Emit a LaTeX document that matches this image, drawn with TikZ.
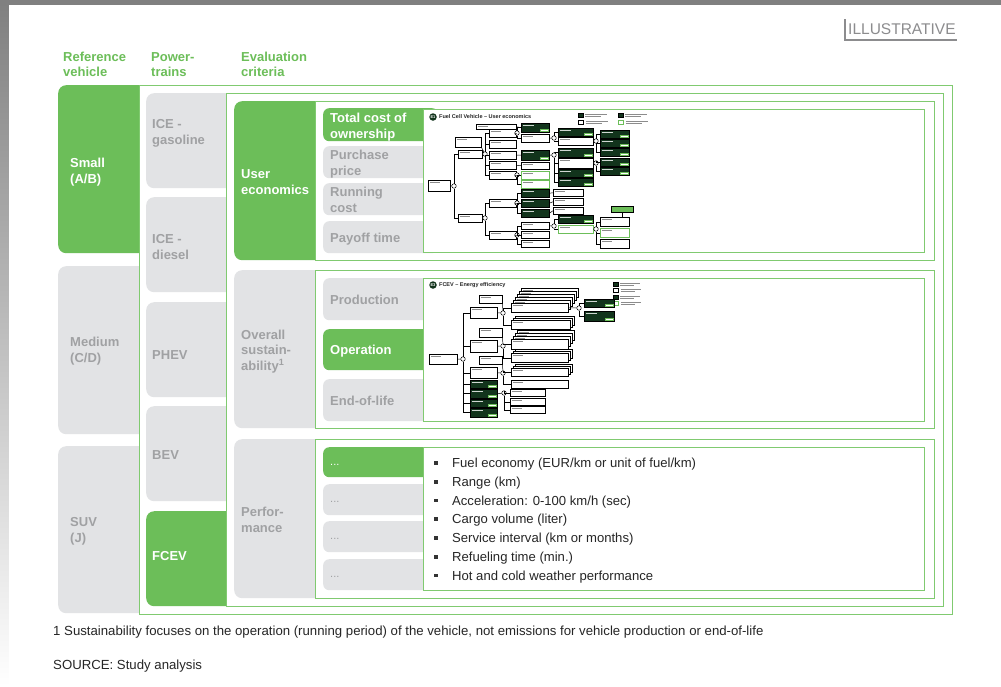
\documentclass[tikz,border=0pt]{standalone}
\usepackage{fontspec}
\setmainfont{Liberation Sans}
\usepackage{xcolor}
\definecolor{mgreen}{RGB}{108,190,89}
\definecolor{framegreen}{RGB}{128,202,112}
\definecolor{boxgray}{RGB}{226,227,229}
\definecolor{txtgray}{RGB}{160,161,163}
\definecolor{darkgreen}{RGB}{18,52,28}
\definecolor{shade}{RGB}{236,240,240}
\definecolor{tagcol}{RGB}{140,140,142}
\usepackage{tikz}
\usetikzlibrary{positioning}

\tikzset{
  sz/.style 2 args={minimum width=#1, minimum height=#2},
  head/.style={anchor=base west, align=left, inner sep=0pt, text=mgreen, font=\fontsize{13}{15}\selectfont\bfseries},
  onlbl/.style={anchor=base west, align=left, inner sep=0pt, text=white, font=\fontsize{13}{15.5}\selectfont\bfseries},
  offlbl/.style={onlbl, text=txtgray},
  onbox/.style={anchor=north west, inner sep=0pt, fill=mgreen, rounded corners=8pt},
  offbox/.style={onbox, fill=boxgray},
  onsub/.style={onbox, rounded corners=6pt},
  offsub/.style={offbox, rounded corners=6pt},
  gframe/.style={anchor=north west, inner sep=0pt, draw=framegreen, line width=1.2pt, fill=white},
  item/.style={anchor=base west, inner sep=0pt, text=black!85, font=\fontsize{13.1}{14}\selectfont},
  bullet/.style={fill=black!80, inner sep=0pt, minimum size=3.6pt},
  note/.style={anchor=base west, inner sep=0pt, text=black!85, font=\fontsize{13.2}{14}\selectfont},
  % mini tree boxes
  dk/.style={anchor=north west, draw=black, fill=darkgreen, line width=0.4pt, inner sep=0pt,
    path picture={\draw[white!80!darkgreen, line width=0.6pt] ([shift={(1.5pt,-2.2pt)}]path picture bounding box.north west) -- ++(11pt,0pt);}},
  dkv/.style={dk,
    path picture={\draw[white!80!darkgreen, line width=0.6pt] ([shift={(1.5pt,-2.2pt)}]path picture bounding box.north west) -- ++(11pt,0pt);
      \filldraw[fill=white, draw=mgreen, line width=0.4pt] ([shift={(-1pt,1pt)}]path picture bounding box.south east) rectangle ++(-8pt,2.5pt);}},
  wt/.style={anchor=north west, draw=black, fill=white, line width=0.5pt, inner sep=0pt,
    path picture={\draw[black!45, line width=0.5pt] ([shift={(1.5pt,-2.2pt)}]path picture bounding box.north west) -- ++(10pt,0pt);}},
  sn/.style={wt, draw=mgreen, line width=0.9pt},
  lg/.style={path picture={}},
  jn/.style={circle, draw=black, fill=white, line width=0.5pt, inner sep=0pt, minimum size=4.5pt},
  tl/.style={draw=black, line width=0.5pt},
  txt/.style={draw=black!45, line width=0.5pt},
  circ/.style={circle, fill=darkgreen, text=white, inner sep=0pt, minimum size=7.5pt, font=\fontsize{4}{4}\selectfont\bfseries},
  ttl/.style={anchor=west, inner sep=0pt, text=black!85, font=\fontsize{5.5}{6}\selectfont\bfseries}
}

\begin{document}
\begin{tikzpicture}[x=1pt, y=-1pt]
  \useasboundingbox (0,0) rectangle (1001,686);
  \fill[shade] (0,0) rectangle (1001,686);
  \fill[white] (9,5) rectangle (1001,686);

  % Tag
  \node[anchor=base west, inner sep=0pt, text=tagcol, font=\fontsize{15.5}{16}\selectfont] (tag) at (848,34.5) {ILLUSTRATIVE};
  \draw[tagcol, line width=1.5pt] ([shift={(-3pt,4pt)}]tag.north west) |- ([shift={(1pt,-5pt)}]tag.south east);

  % Column heads (base = last line)
  \node[head] (hveh) at (63,76) {Reference\\vehicle};
  \node[head] (hpt) at (151,76) {Power-\\trains};
  \node[head] (hev) at (241,76) {Evaluation\\criteria};

  % Reference vehicles
  \node[onbox, sz={100}{168}] (small) at (58,85) {};
  \node[offbox, sz={100}{168}] (medium) at (58,266) {};
  \node[offbox, sz={100}{167}] (suv) at (58,446) {};
  \node[onlbl] (smallT) at (70,183) {Small\\(A/B)};
  \node[offlbl] (mediumT) at (70,362) {Medium\\(C/D)};
  \node[offlbl] (suvT) at (70,542) {SUV\\(J)};

  % Powertrains
  \node[gframe, sz={813}{529}] (ptframe) at (139,85) {};
  \node[offbox, sz={95}{95}] (iceg) at (146,93) {};
  \node[offbox, sz={95}{95}] (iced) at (146,197) {};
  \node[offbox, sz={95}{95}] (phev) at (146,302) {};
  \node[offbox, sz={95}{95}] (bev) at (146,406) {};
  \node[onbox, sz={95}{95}] (fcev) at (146,511) {};
  \node[offlbl] (icegT) at (152,144) {ICE -\\gasoline};
  \node[offlbl] (icedT) at (152,259) {ICE -\\diesel};
  \node[offlbl] (phevT) at (152,359) {PHEV};
  \node[offlbl] (bevT) at (152,459) {BEV};
  \node[onlbl] (fcevT) at (152,560) {FCEV};

  % Evaluation criteria
  \node[gframe, sz={717}{513}] (evframe) at (226,93) {};
  \node[onbox, sz={95}{159}] (usereco) at (234,101) {};
  \node[offbox, sz={95}{158}] (sust) at (234,270) {};
  \node[offbox, sz={95}{159}] (perf) at (234,439) {};
  \node[onlbl] (userecoT) at (241,194) {User\\economics};
  \node[offlbl] (sustT) at (241,370) {Overall\\sustain-\\ability\textsuperscript{1}};
  \node[offlbl] (perfT) at (241,532) {Perfor-\\mance};

  \node[gframe, sz={619}{159}] (ueframe) at (315,101) {};
  \node[gframe, sz={619}{158}] (suframe) at (315,270) {};
  \node[gframe, sz={619}{159}] (pfframe) at (315,439) {};

  % Sub-criteria
  \node[onsub, sz={115}{33}] (tco) at (323,108) {};
  \node[offsub, sz={115}{32}] (pprice) at (323,146) {};
  \node[offsub, sz={115}{32}] (rcost) at (323,183) {};
  \node[offsub, sz={115}{32}] (payoff) at (323,221) {};
  \node[offsub, sz={115}{42}] (prod) at (323,278) {};
  \node[onsub, sz={115}{41}] (oper) at (323,329) {};
  \node[offsub, sz={115}{42}] (eol) at (323,379) {};
  \node[onsub, sz={115}{30}] (pa) at (323,447) {};
  \node[offsub, sz={115}{31}] (pb) at (323,484) {};
  \node[offsub, sz={115}{31}] (pc) at (323,521) {};
  \node[offsub, sz={115}{31}] (pd) at (323,559) {};
  \node[onlbl] (tcoT) at (330,138) {Total cost of\\ownership};
  \node[offlbl] (ppriceT) at (330,175) {Purchase\\price};
  \node[offlbl] (rcostT) at (330,212) {Running\\cost};
  \node[offlbl] (payoffT) at (330,242) {Payoff time};
  \node[offlbl] (prodT) at (330,304) {Production};
  \node[onlbl] (operT) at (330,354) {Operation};
  \node[offlbl] (eolT) at (330,405) {End-of-life};
  \node[onlbl, font=\fontsize{11}{12}\selectfont] (paT) at (330,465) {...};
  \node[offlbl, font=\fontsize{11}{12}\selectfont] (pbT) at (330,502) {...};
  \node[offlbl, font=\fontsize{11}{12}\selectfont] (pcT) at (330,539) {...};
  \node[offlbl, font=\fontsize{11}{12}\selectfont] (pdT) at (330,577) {...};

  \node[gframe, sz={501}{143}] (tree1) at (423,109) {};
  \node[gframe, sz={501}{143}] (tree2) at (423,278) {};
  \node[gframe, sz={501}{143}] (kpis) at (423,447) {};

  % Performance list
  \foreach \t [count=\i from 0] in {Fuel economy (EUR/km or unit of fuel/km), Range (km),
      Acceleration: 0-100 km/h (sec), Cargo volume (liter), Service interval (km or months),
      Refueling time (min.), Hot and cold weather performance} {
    \node[item] (kpi\i) at (452,{467.5+18.75*\i}) {\t};
    \node[bullet] (kb\i) at ([shift={(-16pt,4.5pt)}]kpi\i.base west) {};
  }

  % Tree E1: user economics
  \node[circ] (eone) at (433,117) {E1};
  \node[ttl] (eonet) at ([xshift=2pt]eone.east) {Fuel Cell Vehicle – User economics};
  \node[dk, lg, sz={5}{4}] (lga) at (578,113) {};
  \node[wt, lg, sz={5}{4}] (lgb) at (578,120) {};
  \node[dk, lg, sz={5}{4}] (lgc) at (618,113) {};
  \node[sn, lg, sz={5}{4}] (lgd) at (618,120) {};
  \foreach \n in {lga,lgb,lgc,lgd}
    \draw[txt] ([shift={(2pt,1pt)}]\n.east) -- ++(22pt,0pt) ([shift={(2pt,-1pt)}]\n.east) -- ++(16pt,0pt);

  \node[wt, sz={22}{11}] (tr0) at (428,180) {};
  \node[wt, sz={26}{10}] (tra) at (455,137) {};
  \node[wt, sz={24}{8}] (trp) at (458,150) {};
  \node[wt, sz={24}{8}] (trr) at (458,214) {};
  \foreach \k/\y in {1/129,2/140,3/151,4/161,5/171}
    \node[wt, sz={27}{8}] (c\k) at (489,\y) {};
  \node[wt, sz={40}{5}] (tra2) at (476,124) {};
  \node[dkv, sz={28}{9}] (d1) at (521,123) {};
  \node[wt, sz={28}{8}] (w1) at (521,134) {};
  \node[dkv, sz={28}{10}] (d2) at (521,150) {};
  \node[wt, sz={28}{7}] (w2) at (521,162) {};
  \node[sn, sz={28}{8}] (s1) at (521,171) {};
  \node[sn, sz={28}{8}] (s2) at (521,180) {};
  \node[dkv, sz={35}{8}] (d3) at (558,128) {};
  \node[wt, sz={35}{8}] (w3) at (558,137) {};
  \node[dkv, sz={35}{9}] (d4) at (558,148) {};
  \node[wt, sz={35}{10}] (w4) at (558,158) {};
  \node[dkv, sz={35}{8}] (d5) at (558,169) {};
  \node[dkv, sz={35}{8}] (d6) at (558,178) {};
  \foreach \k/\y in {7/130,8/139,9/148,10/158,11/167}
    \node[dkv, sz={29}{8}] (d\k) at (600,\y) {};
  \node[wt, sz={27}{8}] (m1) at (489,199) {};
  \node[wt, sz={27}{8}] (m2) at (489,231) {};
  \foreach \k/\y in {12/189,13/199,14/209}
    \node[dk, sz={28}{8}] (d\k) at (521,\y) {};
  \foreach \k/\y in {1/189,2/198,3/207}
    \node[wt, sz={30}{7}] (n\k) at (553,\y) {};
  \foreach \k/\y in {5/222,6/231,7/240}
    \node[wt, sz={28}{7}] (w\k) at (521,\y) {};
  \node[dkv, sz={35}{8}] (d15) at (558,215) {};
  \node[sn, sz={35}{8}] (s3) at (558,225) {};
  \node[wt, sz={29}{9}] (w8) at (600,217) {};
  \node[sn, sz={29}{9}] (s4) at (600,228) {};
  \node[wt, sz={29}{9}] (w9) at (600,239) {};
  \node[anchor=north west, fill=mgreen, draw=black, line width=0.4pt, inner sep=0pt, sz={22}{6}] (g1) at (611,206) {};

  \node[jn] (j0) at (454,186) {};
  \node[jn] (j1) at (485,154) {};
  \node[jn] (j2) at (517,133) {};
  \node[jn] (j4) at (517,175) {};
  \node[jn] (j6) at (554,138) {};
  \node[jn] (j7) at (554,155) {};
  \node[jn] (j8) at (596,141) {};
  \node[jn] (j9) at (596,163) {};
  \node[jn] (j10) at (485,218) {};
  \node[jn] (j11) at (517,203) {};
  \node[jn] (j12) at (517,235) {};
  \node[jn] (j13) at (554,226) {};
  \node[jn] (j14) at (596,229) {};

  \draw[tl] (tr0.east) -- (j0);
  \foreach \c in {trp,trr} \draw[tl] (j0) |- (\c.west);
  \draw[tl] (trp.east) -- (j1);
  \draw[tl] (tra.south east) -- (j1);
  \foreach \c in {c1,c2,c3,c4,c5} \draw[tl] (j1) |- (\c.west);
  \draw[tl] (c1.east) -- (j2);
  \foreach \c in {d1,w1} \draw[tl] (j2) |- (\c.west);
  \draw[tl] (tra2.east) -- (d1.west);
  \draw[tl] (c3.east) -- (d2.west);
  \draw[tl] (c4.east) -- (w2.west);
  \draw[tl] (c5.east) -- (j4);
  \foreach \c in {s1,s2} \draw[tl] (j4) |- (\c.west);
  \draw[tl] (w1.east) -- (j6);
  \foreach \c in {d3,w3} \draw[tl] (j6) |- (\c.west);
  \draw[tl] (d2.east) -- (j7);
  \foreach \c in {d4,w4,d5,d6} \draw[tl] (j7) |- (\c.west);
  \draw[tl] (w3.east) -- (j8);
  \foreach \c in {d7,d8,d9} \draw[tl] (j8) |- (\c.west);
  \draw[tl] (w4.east) -- (j9);
  \foreach \c in {d10,d11} \draw[tl] (j9) |- (\c.west);
  \draw[tl] (trr.east) -- (j10);
  \foreach \c in {m1,m2} \draw[tl] (j10) |- (\c.west);
  \draw[tl] (m1.east) -- (j11);
  \foreach \c in {d12,d13,d14} \draw[tl] (j11) |- (\c.west);
  \foreach \a/\b in {d12/n1,d13/n2,d14/n3} \draw[tl] (\a.east) -- (\b.west);
  \draw[tl] (m2.east) -- (j12);
  \foreach \c in {w5,w6,w7} \draw[tl] (j12) |- (\c.west);
  \draw[tl] (w5.east) -- (j13);
  \foreach \c in {d15,s3} \draw[tl] (j13) |- (\c.west);
  \draw[tl] (s3.east) -- (j14);
  \foreach \c in {w8,s4,w9} \draw[tl] (j14) |- (\c.west);
  \draw[tl] (g1.south) -- (g1.south |- w8.north);

  % Tree E3: energy efficiency
  \node[circ] (ethree) at (433,285) {E3};
  \node[ttl] (ethreet) at ([xshift=2pt]ethree.east) {FCEV – Energy efficiency};
  \node[dk, lg, sz={5}{4}] (lge) at (613,282) {};
  \node[wt, lg, sz={5}{4}] (lgf) at (613,288) {};
  \node[dk, lg, sz={5}{4}] (lgg) at (613,295) {};
  \node[sn, lg, sz={5}{4}] (lgh) at (613,301) {};
  \foreach \n in {lge,lgf,lgg,lgh}
    \draw[txt] ([shift={(2pt,1pt)}]\n.east) -- ++(20pt,0pt) ([shift={(2pt,-1pt)}]\n.east) -- ++(14pt,0pt);

  \node[wt, sz={28}{10}] (r2) at (429,354) {};
  \node[wt, sz={27}{11}] (e1) at (470,307) {};
  \node[wt, sz={27}{12}] (e2) at (470,340) {};
  \node[wt, sz={27}{11}] (e3) at (470,367) {};
  \foreach \k/\y/\h in {4/380/8,5/389/9,6/399/8,7/408/9}
    \node[dkv, sz={27}{\h}] (e\k) at (470,\y) {};
  \node[wt, sz={23}{8}] (b1) at (479,295) {};
  \node[wt, sz={23}{9}] (b2) at (479,328) {};
  \node[wt, sz={23}{8}] (b3) at (479,356) {};

  \foreach \k in {5,...,1} \node[wt, sz={57}{9}] (st1b\k) at ({511+2*\k},{303-3*\k}) {};
  \node[wt, sz={57}{9}] (st1) at (511,303) {};
  \foreach \k in {2,1} \node[wt, sz={59}{9}] (st2b\k) at ({511+2*\k},{320-2*\k}) {};
  \node[wt, sz={59}{9}] (st2) at (511,320) {};
  \foreach \k in {3,2,1} \node[wt, sz={57}{10}] (st3b\k) at ({511+2*\k},{339-3*\k}) {};
  \node[wt, sz={57}{10}] (st3) at (511,339) {};
  \foreach \k in {2,1} \node[wt, sz={57}{9}] (st4b\k) at ({511+2*\k},{353-2*\k}) {};
  \node[wt, sz={57}{9}] (st4) at (511,353) {};
  \foreach \k in {2,1} \node[wt, sz={57}{8}] (st5b\k) at ({511+2*\k},{368-2*\k}) {};
  \node[wt, sz={57}{8}] (st5) at (511,368) {};
  \node[wt, sz={57}{8}] (st6) at (511,380) {};
  \foreach \k/\y in {1/389,2/398,3/406}
    \node[wt, sz={35}{7}] (f\k) at (510,\y) {};
  \node[dkv, sz={30}{8}] (h1) at (584,299) {};
  \node[dkv, sz={30}{10}] (h2) at (584,311) {};

  \node[jn] (j20) at (463,359) {};
  \node[jn] (j21) at (503,313) {};
  \node[jn] (j22) at (503,346) {};
  \node[jn] (j23) at (503,373) {};
  \node[jn] (j24) at (504,393) {};
  \node[jn] (j25) at (579,308) {};

  \draw[tl] (r2.east) -- (j20);
  \foreach \c in {e1,e2,e3,e4,e5,e6,e7} \draw[tl] (j20) |- (\c.west);
  \draw[tl] (e1.east) -- (j21);
  \draw[tl] (b1.south east) -- (j21);
  \foreach \c in {st1,st2} \draw[tl] (j21) |- (\c.west);
  \draw[tl] (e2.east) -- (j22);
  \draw[tl] (b2.south east) -- (j22);
  \foreach \c in {st3,st4} \draw[tl] (j22) |- (\c.west);
  \draw[tl] (e3.east) -- (j23);
  \draw[tl] (b3.south east) -- (j23);
  \foreach \c in {st5,st6} \draw[tl] (j23) |- (\c.west);
  \draw[tl] (e5.east) -- (j24);
  \foreach \c in {f1,f2,f3} \draw[tl] (j24) |- (\c.west);
  \draw[tl] (st1.east) -- (j25);
  \foreach \c in {h1,h2} \draw[tl] (j25) |- (\c.west);

  % Notes
  \node[note] (fn) at (53,635.5) {1 Sustainability focuses on the operation (running period) of the vehicle, not emissions for vehicle production or end-of-life};
  \node[note] (src) at (53,669.5) {SOURCE: Study analysis};
\end{tikzpicture}
\end{document}
